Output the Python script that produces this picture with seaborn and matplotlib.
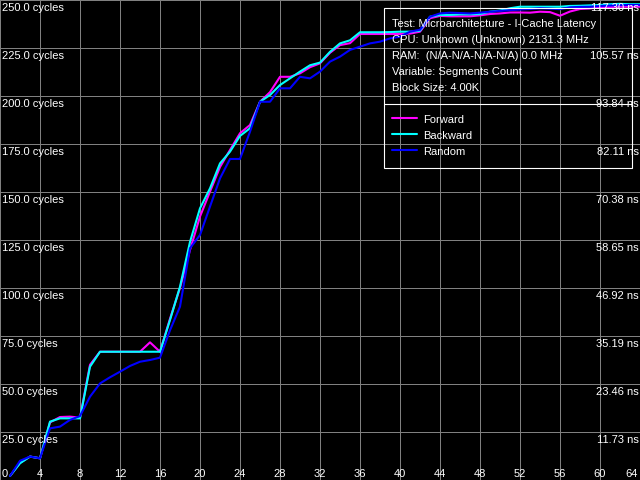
import numpy as np
import pandas as pd
import seaborn as sns
import matplotlib
matplotlib.use("Agg")
import matplotlib.pyplot as plt
from matplotlib.patches import Rectangle
from matplotlib.lines import Line2D

# data (cycles per segment count)
segments = list(range(1, 65))
forward = [2.1, 9.0, 12.2, 11.3, 30.0, 32.8, 33.0, 32.5, 60.0, 66.8,
           66.8, 66.8, 66.8, 66.8, 71.7, 66.8, 84.0, 100.0, 119.8, 137.2,
           150.2, 163.0, 171.9, 180.6, 184.9, 197.0, 202.0, 210.0, 210.0, 211.8,
           215.0, 217.0, 222.5, 226.5, 227.5, 232.3, 232.3, 232.3, 232.3, 232.3,
           232.5, 233.5, 240.5, 241.7, 241.5, 241.5, 241.5, 242.0, 242.7, 243.0,
           243.5, 243.5, 243.4, 243.9, 243.7, 241.8, 244.0, 245.3, 245.6, 246.2,
           246.4, 246.5, 246.5, 246.5]
backward = [2.1, 8.7, 12.2, 11.3, 30.4, 32.1, 32.1, 32.1, 59.0, 66.8,
            66.8, 66.8, 66.8, 66.8, 66.8, 66.8, 83.3, 100.7, 124.0, 141.5,
            151.9, 164.9, 171.0, 179.2, 183.2, 197.0, 200.5, 205.7, 209.2, 212.7,
            216.0, 217.4, 223.0, 227.4, 229.0, 233.2, 233.2, 233.2, 233.3, 233.5,
            233.5, 234.0, 241.3, 242.2, 242.2, 242.5, 242.5, 242.7, 243.9, 244.5,
            245.7, 246.5, 246.5, 246.5, 246.5, 246.5, 246.9, 247.0, 247.2, 247.4,
            247.8, 248.0, 247.8, 247.8]
random_ = [2.1, 10.0, 12.2, 11.3, 26.9, 27.8, 31.3, 33.3, 43.4, 50.3,
           53.5, 56.4, 59.4, 61.6, 62.5, 63.7, 78.0, 90.3, 120.7, 127.6,
           142.4, 157.1, 167.2, 167.2, 181.4, 197.0, 197.0, 204.0, 204.0, 210.0,
           209.2, 212.7, 217.9, 220.5, 224.0, 225.7, 227.4, 228.3, 230.0, 230.9,
           233.5, 234.5, 241.3, 243.0, 243.4, 243.2, 243.0, 243.4, 243.9, 244.3,
           244.7, 245.0, 245.3, 245.7, 245.5, 245.2, 246.2, 246.4, 246.5, 246.9,
           247.1, 247.3, 247.4, 247.4]

x_ticks = list(range(0, 65, 4))
y_ticks = [25, 50, 75, 100, 125, 150, 175, 200, 225, 250]
ns_labels = ["11.73 ns", "23.46 ns", "35.19 ns", "46.92 ns", "58.65 ns",
             "70.38 ns", "82.11 ns", "93.84 ns", "105.57 ns", "117.30 ns"]
series = ["Forward", "Backward", "Random"]
colors = {"Forward": "#ff00ff", "Backward": "#00ffff", "Random": "#0000ff"}
info = ["Test: Microarchitecture - I-Cache Latency",
        "CPU: Unknown (Unknown) 2131.3 MHz",
        "RAM:  (N/A-N/A-N/A-N/A) 0.0 MHz",
        "Variable: Segments Count",
        "Block Size: 4.00K"]

df = pd.DataFrame({
    "segments": segments * 3,
    "cycles": forward + backward + random_,
    "order": np.repeat(series, len(segments)),
})

sns.set_style("dark")
plt.rcParams["font.family"] = ["Liberation Sans", "DejaVu Sans"]

W, H = 640, 480
fig = plt.figure(figsize=(6.4, 4.8), dpi=100, facecolor="black")
ax = fig.add_axes([0, 0, 1, 1], facecolor="black")

sns.lineplot(data=df, x="segments", y="cycles", hue="order", hue_order=series,
             palette=colors, linewidth=1.5, legend=False, ax=ax)

ax.set_xlim(0, 64)
ax.set_ylim(0, 250)
ax.set_xticks(x_ticks)
ax.set_yticks([0] + y_ticks)
ax.grid(True, color="#808080", linewidth=0.72)
ax.tick_params(length=0, labelbottom=False, labelleft=False)
ax.set_xlabel("")
ax.set_ylabel("")
for s in ax.spines.values():
    s.set_visible(False)

def px(x, y):
    # pixel position from top-left -> axes fraction
    return x / W, 1 - y / H

tk = dict(color="white", fontsize=8)
# x tick labels
for v in x_ticks:
    ha = "left" if v == 0 else ("right" if v == 64 else "center")
    xx = v / 64
    if v == 0:
        xx = 2 / W
    elif v == 64:
        xx = 638 / W
    ax.text(xx, 3 / H, str(v), ha=ha, va="baseline", transform=ax.transAxes, **tk)

# y tick labels (cycles left, ns right)
for v, ns in zip(y_ticks, ns_labels):
    ypix = (250 - v) / 250 * H + 11
    ax.text(*px(2, ypix), f"{v:.1f} cycles", ha="left", va="baseline",
            transform=ax.transAxes, **tk)
    ax.text(*px(639, ypix), ns, ha="right", va="baseline",
            transform=ax.transAxes, **tk)

# info / legend box
x0, y0, x1, y1 = px(384, 8) + px(632, 168)
ax.add_patch(Rectangle((x0, y1), x1 - x0, y0 - y1, transform=ax.transAxes,
                       fill=False, edgecolor="white", linewidth=0.8, zorder=5))
ax.add_line(Line2D([x0, x1], [1 - 104 / H] * 2, transform=ax.transAxes,
                   color="white", linewidth=0.8, zorder=5))
for i, t in enumerate(info):
    ax.text(*px(392, 27 + 16 * i), t, ha="left", va="baseline",
            transform=ax.transAxes, zorder=6, **tk)
for i, name in enumerate(series):
    yy = 118 + 16 * i
    ax.add_line(Line2D([392 / W, 417 / W], [1 - yy / H] * 2, transform=ax.transAxes,
                       color=colors[name], linewidth=1.5, zorder=6))
    ax.text(*px(423, yy + 5), name, ha="left", va="baseline",
            transform=ax.transAxes, zorder=6, **tk)

fig.savefig("out.png", dpi=100, facecolor="black")
